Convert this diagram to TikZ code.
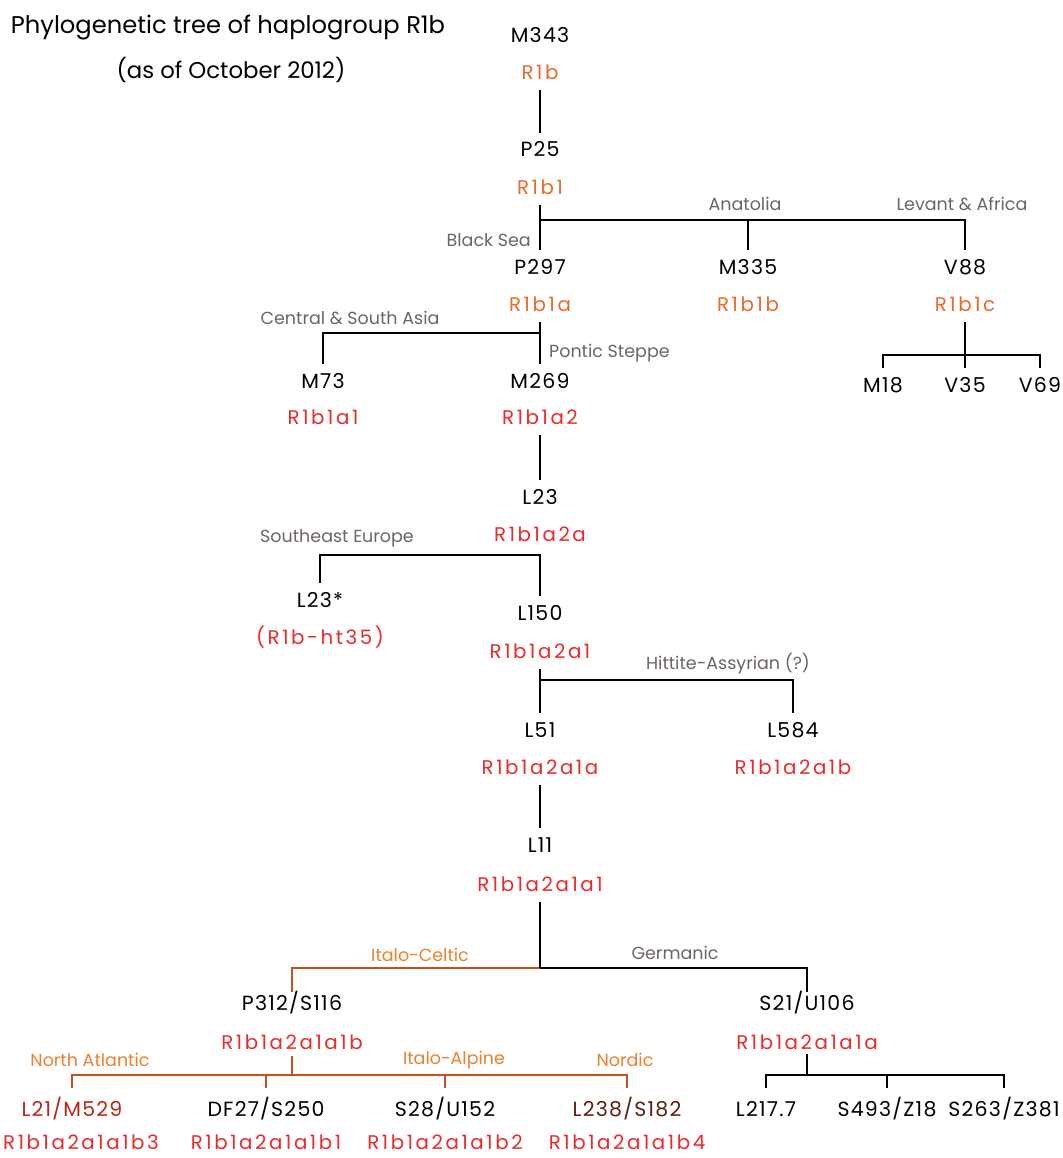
\documentclass[tikz,border=0pt]{standalone}
\usepackage{fontspec}
\setmainfont{Poppins}
\definecolor{hgorange}{HTML}{EA6A2A}
\definecolor{hgred}{HTML}{EC2A2A}
\definecolor{hggray}{HTML}{6E6464}
\definecolor{icorange}{HTML}{EE8030}
\definecolor{icline}{HTML}{C8501E}
\definecolor{darkred}{HTML}{B8281A}
\definecolor{darkbrown}{HTML}{5A2010}
\newfontfamily\namefont[LetterSpace=6]{Poppins}
\newfontfamily\hgfont[LetterSpace=13]{Poppins}
\tikzset{
  snp/.style={font=\namefont\fontsize{20.5}{20.5}\selectfont, text height=14pt, text depth=0pt, inner sep=0pt, outer ysep=10pt, outer xsep=0pt},
  hg/.style={snp, font=\hgfont\fontsize{19.8}{19.8}\selectfont, text height=13.5pt, text=hgred},
  hgo/.style={hg, text=hgorange},
  region/.style={font=\fontsize{17.5}{17.5}\selectfont, text=hggray, inner sep=0pt},
  regiono/.style={region, text=icorange},
  br/.style={line width=1.6pt, black},
  bro/.style={line width=1.6pt, icline},
}
\begin{document}
\begin{tikzpicture}[x=1pt,y=-1pt]
\useasboundingbox[fill=white] (0,0) rectangle (1062,1158);
% title
\node[font=\fontsize{24.2}{24.2}\selectfont, inner sep=0pt] (title) at (228,28) {Phylogenetic tree of haplogroup R1b};
\node[font=\fontsize{22.8}{22.8}\selectfont, inner sep=0pt] (date) at (231,70) {(as of October 2012)};

% level 0
\node[snp] (m343) at (540,36) {M343};
\node[hgo] (r1b) at (540,73) {R1b};
\node[snp] (p25) at (540,150) {P25};
\node[hgo] (r1b1) at (540,188) {R1b1};
\draw[br] (r1b.south) -- (p25.north);

% R1b1 split
\node[snp] (p297) at (540,267) {P297};
\node[hgo] (r1b1a) at (540,305) {R1b1a};
\node[snp] (m335) at (748,267) {M335};
\node[hgo] (r1b1b) at (748,305) {R1b1b};
\node[snp] (v88) at (965,267) {V88};
\node[hgo] (r1b1c) at (965,305) {R1b1c};
\coordinate (j1) at (540,220);
\draw[br] (r1b1.south) -- (p297.north);
\draw[br] (j1) -| (m335.north);
\draw[br] (j1) -| (v88.north);
\node[region, anchor=east] (blacksea) at (531,240) {Black Sea};
\node[region] (anatolia) at (745,204) {Anatolia};
\node[region] (levant) at (962,204) {Levant \& Africa};

% P297 split
\node[snp] (m73) at (323,381) {M73};
\node[hg] (r1b1a1) at (323,418) {R1b1a1};
\node[snp] (m269) at (540,381) {M269};
\node[hg] (r1b1a2) at (540,418) {R1b1a2};
\coordinate (j2) at (540,333);
\draw[br] (r1b1a.south) -- (m269.north);
\draw[br] (j2) -| (m73.north);
\node[region] (csasia) at (350,318) {Central \& South Asia};
\node[region, anchor=west] (pontic) at (549,353) {Pontic Steppe};

% V88 split
\node[snp] (m18) at (883,385) {M18};
\node[snp] (v35) at (965,385) {V35};
\node[snp] (v69) at (1040,385) {V69};
\coordinate (j3) at (965,355);
\draw[br] (r1b1c.south) -- (j3);
\draw[br] (m18.north) |- (j3) -| (v69.north);
\draw[br] (j3) -- (v35.north);

% M269 -> L23
\node[snp] (l23) at (540,497) {L23};
\node[hg] (r1b1a2a) at (540,535) {R1b1a2a};
\draw[br] (r1b1a2.south) -- (l23.north);

% L23 split
\node[snp] (l23s) at (320,600) {L23*};
\node[hg] (ht35) at (320,638) {(R1b-ht35)};
\node[snp] (l150) at (540,613) {L150};
\node[hg] (r1b1a2a1) at (540,652) {R1b1a2a1};
\coordinate (j4) at (540,555);
\draw[br] (l23s.north) |- (j4) -- (l150.north);
\node[region] (seeur) at (337,538) {Southeast Europe};

% L150 split
\node[snp] (l51) at (540,730) {L51};
\node[hg] (r1b1a2a1a) at (540,768) {R1b1a2a1a};
\node[snp] (l584) at (793,730) {L584};
\node[hg] (r1b1a2a1b) at (793,768) {R1b1a2a1b};
\coordinate (j5) at (540,680);
\draw[br] (r1b1a2a1.south) -- (l51.north);
\draw[br] (j5) -| (l584.north);
\node[region] (hittite) at (728,664) {Hittite-Assyrian (?)};

% L51 -> L11
\node[snp] (l11) at (540,845) {L11};
\node[hg] (r1b1a2a1a1) at (540,885) {R1b1a2a1a1};
\draw[br] (r1b1a2a1a.south) -- (l11.north);

% L11 split
\node[snp] (p312) at (292,1003) {P312/S116};
\node[hg] (r1b1a2a1a1b) at (292,1043) {R1b1a2a1a1b};
\node[snp] (s21) at (807,1003) {S21/U106};
\node[hg] (r1b1a2a1a1a) at (807,1043) {R1b1a2a1a1a};
\coordinate (j6) at (540,968);
\draw[bro] (j6) -| ([yshift=-6pt]p312.north);
\draw[br] (j6) -| ([yshift=-6pt]s21.north);
\draw[br] (r1b1a2a1a1.south) -- (j6);
\node[regiono] (italoceltic) at (420,955) {Italo-Celtic};
\node[region] (germanic) at (675,953) {Germanic};

% P312 split
\node[snp, text=darkred] (l21) at (72,1109) {L21/M529};
\node[hg] (b3) at (81,1143) {R1b1a2a1a1b3};
\node[snp] (df27) at (266,1109) {DF27/S250};
\node[hg] (b1) at (266,1143) {R1b1a2a1a1b1};
\node[snp] (s28) at (445,1109) {S28/U152};
\node[hg] (b2) at (445,1143) {R1b1a2a1a1b2};
\node[snp, text=darkbrown] (l238) at (627,1109) {L238/S182};
\node[hg] (b4) at (627,1143) {R1b1a2a1a1b4};
\coordinate (j7) at (292,1075);
\coordinate (j7a) at (72,1075);
\coordinate (j7b) at (627,1075);
\draw[bro] ([yshift=4pt]r1b1a2a1a1b.south) -- (j7);
\draw[bro] ([yshift=4pt]l21.north) -- (j7a) -- (j7b) -- ([yshift=4pt]l238.north);
\draw[bro] (j7 -| df27) -- ([yshift=4pt]df27.north);
\draw[bro] (j7 -| s28) -- ([yshift=4pt]s28.north);
\node[regiono] (northatl) at (90,1060) {North Atlantic};
\node[regiono] (italoalp) at (454,1060) {Italo-Alpine};
\node[regiono] (nordic) at (625,1060) {Nordic};

% S21 split
\node[snp] (l217) at (766,1109) {L217.7};
\node[snp] (s493) at (887,1109) {S493/Z18};
\node[snp] (s263) at (1004,1109) {S263/Z381};
\coordinate (j8) at (807,1075);
\draw[br] ([yshift=6pt]r1b1a2a1a1a.south) -- (j8);
\draw[br] ([yshift=4pt]l217.north) |- (j8) -| ([yshift=4pt]s263.north);
\draw[br] (j8 -| s493) -- ([yshift=4pt]s493.north);
\end{tikzpicture}
\end{document}
